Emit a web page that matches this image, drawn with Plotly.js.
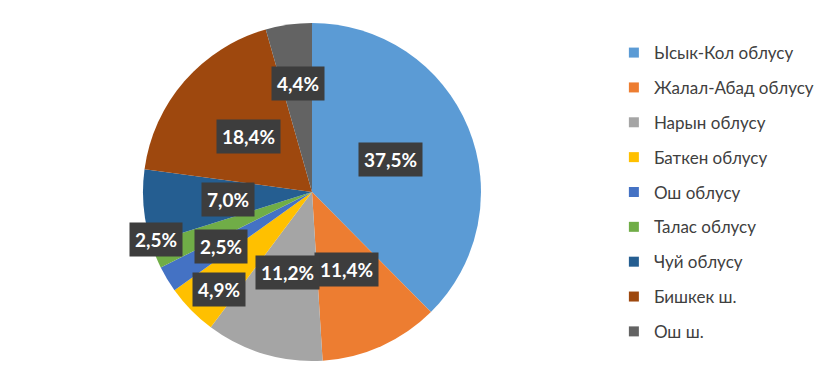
<!DOCTYPE html>
<html>
<head>
<meta charset="utf-8">
<script src="https://cdn.plot.ly/plotly-3.0.1.min.js"></script>
<style>html,body{margin:0;padding:0;background:#fff;}#chart{width:824px;height:385px;}</style>
</head>
<body>
<div id="chart"></div>
<script>
// ---- data ----
var labels = ["Ысык-Кол облусу", "Жалал-Абад облусу", "Нарын облусу", "Баткен облусу", "Ош облусу", "Талас облусу", "Чуй облусу", "Бишкек ш.", "Ош ш."];
var values = [37.5, 11.4, 11.2, 4.9, 2.5, 2.5, 7.0, 18.4, 4.4];

// ---- styles ----
var colors = ["#5B9BD5", "#ED7D31", "#A5A5A5", "#FFC000", "#4472C4", "#70AD47", "#255E91", "#9E480E", "#636363"];
// label placement (Excel "best fit"): radial fraction and angular shift (deg)
var labelRadius = [0.5, 0.5, 0.5, 0.8, 0.63, 0.965, 0.5, 0.5, 0.65];
var labelShift  = [0, 0, 0, -2, 0, 5, 0, 0, 0.5];

var W = 824, H = 385;
var domX = [0.17354, 0.58374], domY = [0.06234, 0.94026];

var traces = [{
  type: 'pie',
  labels: labels,
  values: values,
  sort: false,
  direction: 'clockwise',
  rotation: 0,
  marker: {colors: colors, line: {width: 0}},
  textinfo: 'none',
  hoverinfo: 'label+percent',
  showlegend: false,
  domain: {x: domX, y: domY}
}];

// legend entries via library legend (one group per category for spacing)
labels.forEach(function (lab, i) {
  traces.push({
    type: 'scatter', mode: 'markers', x: [null], y: [null],
    name: lab, legendgroup: 'g' + i, showlegend: true,
    marker: {symbol: 'square', size: 10, color: colors[i]},
    hoverinfo: 'skip'
  });
});

// annotation labels computed from the data
var total = values.reduce(function (a, b) { return a + b; }, 0);
var Rpx = Math.min((domX[1] - domX[0]) * W, (domY[1] - domY[0]) * H) / 2;
var cx = (domX[0] + domX[1]) / 2, cy = (domY[0] + domY[1]) / 2;
var annotations = [];
var cum = 0;
values.forEach(function (v, i) {
  var mid = (cum + v / 2) / total * 360 + labelShift[i];
  cum += v;
  var th = mid * Math.PI / 180;
  var r = labelRadius[i] * Rpx;
  annotations.push({
    xref: 'paper', yref: 'paper',
    x: cx + r * Math.sin(th) / W,
    y: cy + r * Math.cos(th) / H,
    xanchor: 'center', yanchor: 'middle',
    text: v.toFixed(1).replace('.', ',') + '%',
    showarrow: false,
    font: {family: 'Lato, "Open Sans", sans-serif', size: 19, color: '#ffffff', weight: 'bold'},
    bgcolor: '#3d3d3d',
    borderpad: 5
  });
});

var layout = {
  width: W, height: H,
  margin: {l: 0, r: 0, t: 0, b: 0},
  paper_bgcolor: '#ffffff', plot_bgcolor: '#ffffff',
  xaxis: {visible: false, domain: [0.95, 1]},
  yaxis: {visible: false, domain: [0.95, 1]},
  showlegend: true,
  legend: {
    x: 0.745, y: 0.909, xanchor: 'left', yanchor: 'top',
    traceorder: 'grouped', tracegroupgap: 9.75,
    font: {family: 'Lato, "Open Sans", sans-serif', size: 17, color: '#404040'},
    itemclick: false, itemdoubleclick: false
  },
  annotations: annotations
};

Plotly.newPlot('chart', traces, layout, {displayModeBar: false, staticPlot: true});
</script>
</body>
</html>
